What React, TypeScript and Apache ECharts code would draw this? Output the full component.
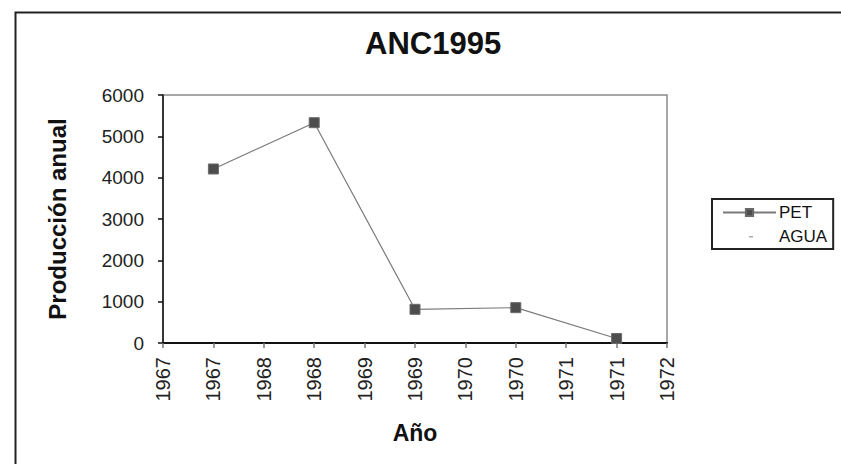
import React, { useEffect, useRef } from "react";
import * as echarts from "echarts";

const titleText = "ANC1995";
const yAxisName = "Producción anual";
const xAxisName = "Año";
const seriesNames = ["PET", "AGUA"];
// x positions on the date-like axis (ticks every half year, labels show the year)
const petYears = [1967.5, 1968.5, 1969.5, 1970.5, 1971.5];
const petValues = [4210, 5330, 815, 855, 110];
const aguaValues: number[] = [];
const xMin = 1967;
const xMax = 1972;
const xStep = 0.5;
const yMin = 0;
const yMax = 6000;
const yStep = 1000;

const FONT = "'Liberation Sans', Arial, sans-serif";

export default function App() {
  const ref = useRef<HTMLDivElement>(null);
  useEffect(() => {
    if (!ref.current) return;
    const chart = echarts.init(ref.current, null, { renderer: "svg" });
    chart.setOption({
      animation: false,
      backgroundColor: "#ffffff",
      textStyle: { fontFamily: FONT },
      title: {
        text: titleText,
        left: 360,
        top: 23,
        textStyle: { fontFamily: FONT, fontSize: 31, fontWeight: "bold", color: "#111" },
      },
      legend: {
        orient: "vertical",
        left: 712,
        top: 199,
        padding: [5, 6, 4, 10],
        itemGap: 7,
        itemWidth: 53,
        itemHeight: 9,
        borderColor: "#222",
        borderWidth: 2,
        borderRadius: 0,
        textStyle: { fontFamily: FONT, fontSize: 17, color: "#111", padding: [0, 0, 0, -2] },
        data: [
          { name: seriesNames[0] },
          { name: seriesNames[1], icon: "path://M0,0 M53,9 M26,4 L30,4 L30,5.5 L26,5.5 Z" },
        ],
      },
      grid: {
        left: 163,
        right: 174,
        top: 95,
        bottom: 121,
        show: true,
        borderColor: "#8a8a8a",
        borderWidth: 1.5,
      },
      xAxis: {
        type: "value",
        min: xMin,
        max: xMax,
        interval: xStep,
        name: xAxisName,
        nameLocation: "middle",
        nameGap: 78,
        nameTextStyle: { fontFamily: FONT, fontSize: 23, fontWeight: "bold", color: "#111" },
        axisLine: { show: true, onZero: false, lineStyle: { color: "#111", width: 2 } },
        axisTick: { show: true, inside: false, length: 5, lineStyle: { color: "#777", width: 1.5 } },
        axisLabel: {
          rotate: 90,
          margin: 14,
          fontSize: 20,
          color: "#222",
          showMinLabel: true,
          showMaxLabel: true,
          formatter: (v: number) => String(Math.floor(v)),
        },
        splitLine: { show: false },
      },
      yAxis: {
        type: "value",
        min: yMin,
        max: yMax,
        interval: yStep,
        name: yAxisName,
        nameLocation: "middle",
        nameGap: 94,
        nameTextStyle: { fontFamily: FONT, fontSize: 24, fontWeight: "bold", color: "#111" },
        axisLine: { show: true, lineStyle: { color: "#111", width: 1.5 } },
        axisTick: { show: true, inside: false, length: 5, lineStyle: { color: "#111", width: 1.5 } },
        axisLabel: { margin: 19, fontSize: 19, color: "#222", formatter: (v: number) => String(v) },
        splitLine: { show: false },
      },
      series: [
        {
          name: seriesNames[0],
          type: "line",
          data: petYears.map((x, i) => [x, petValues[i]]),
          symbol: "rect",
          symbolSize: 10,
          itemStyle: { color: "#4d4d4d", borderColor: "#6a6a6a", borderWidth: 1 },
          lineStyle: { color: "#7a7a7a", width: 1.2 },
        },
        {
          name: seriesNames[1],
          type: "line",
          data: aguaValues,
          symbol: "none",
          itemStyle: { color: "#aaaaaa" },
          lineStyle: { opacity: 0 },
        },
      ],
      graphic: [
        {
          type: "rect",
          left: 13,
          top: 10,
          shape: { width: 900, height: 500 },
          style: { fill: "none", stroke: "#222", lineWidth: 2 },
          silent: true,
          z: -1,
        },
      ],
    });
    return () => chart.dispose();
  }, []);
  return (
    <div
      ref={ref}
      style={{ position: "absolute", left: 0, top: 0, width: 841, height: 464, background: "#fff" }}
    />
  );
}
